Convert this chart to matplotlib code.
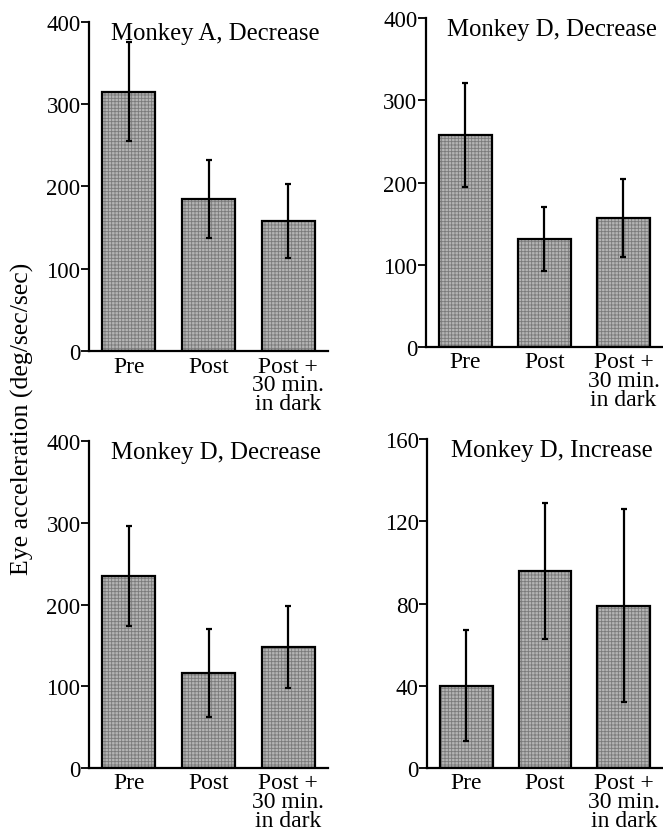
import matplotlib
matplotlib.use("Agg")
import matplotlib.pyplot as plt

plt.rcParams['font.family'] = ['Liberation Serif', 'DejaVu Serif']
plt.rcParams['hatch.linewidth'] = 0.6

conditions = ["Pre", "Post", "Post +\n30 min.\nin dark"]
titles = ["Monkey A, Decrease", "Monkey D, Decrease",
          "Monkey D, Decrease", "Monkey D, Increase"]

means_a_dec = [315, 185, 158]
errs_a_dec = [60, 47, 45]
means_d_dec1 = [258, 132, 157]
errs_d_dec1 = [63, 39, 47]
means_d_dec2 = [235, 116, 148]
errs_d_dec2 = [61, 54, 50]
means_d_inc = [40, 96, 79]
errs_d_inc = [27, 33, 47]

ymaxs = [400, 400, 400, 160]
ysteps = [100, 100, 100, 40]

all_means = [means_a_dec, means_d_dec1, means_d_dec2, means_d_inc]
all_errs = [errs_a_dec, errs_d_dec1, errs_d_dec2, errs_d_inc]

# axes boxes in figure fractions [left, bottom, width, height]
boxes = [[0.134, 0.579, 0.361, 0.394],
         [0.642, 0.584, 0.358, 0.393],
         [0.134, 0.081, 0.361, 0.391],
         [0.644, 0.081, 0.356, 0.393]]

fig = plt.figure(figsize=(6.63, 8.37), dpi=100)

for i in range(4):
    ax = fig.add_axes(boxes[i])
    x = list(range(len(conditions)))
    # stippled fill
    ax.bar(x, all_means[i], width=0.67, color='#b4b4b4', edgecolor='#7a7a7a',
           hatch='+++++', linewidth=0)
    # outline + error bars
    ax.bar(x, all_means[i], width=0.67, fill=False, edgecolor='black',
           linewidth=1.6)
    ax.errorbar(x, all_means[i], yerr=all_errs[i], fmt='none', ecolor='black',
                elinewidth=1.6, capsize=2.5, capthick=1.6)
    ax.set_xlim(-0.5, 2.5)
    ax.set_ylim(0, ymaxs[i])
    ax.set_yticks(range(0, ymaxs[i] + 1, ysteps[i]))
    ax.set_xticks(x)
    ax.set_xticklabels(conditions, fontsize=17, linespacing=0.85)
    ax.tick_params(axis='x', length=0, pad=3)
    ax.tick_params(axis='y', length=6, width=1.3, labelsize=16.5, pad=0)
    for s in ['top', 'right']:
        ax.spines[s].set_visible(False)
    for s in ['left', 'bottom']:
        ax.spines[s].set_linewidth(1.6)
    ax.text(0.53, 1.0, titles[i], transform=ax.transAxes, ha='center',
            va='top', fontsize=17.8)

fig.text(0.034, 0.5, "Eye acceleration (deg/sec/sec)", rotation=90,
         ha='center', va='center', fontsize=18.5)

fig.savefig("out.png", dpi=100)
